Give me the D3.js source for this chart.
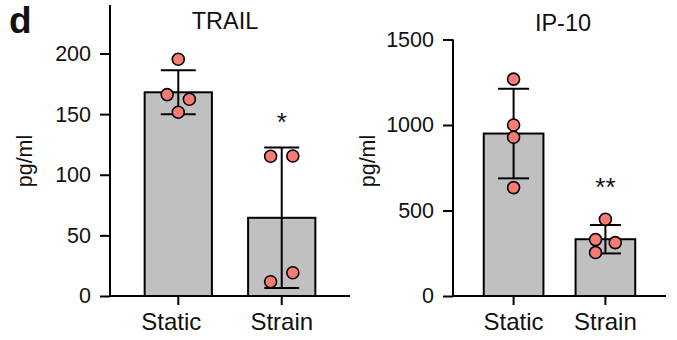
<!DOCTYPE html>
<html>
<head>
<meta charset="utf-8">
<script src="https://cdn.jsdelivr.net/npm/d3@7"></script>
<style>
  body { margin: 0; background: #fff; }
  svg text { font-family: "Liberation Sans", Arial, sans-serif; fill: #111; }
</style>
</head>
<body>
<div id="chart"></div>
<script>
(function () {

  // groups on the x axis
  const groups = ['Static', 'Strain']

  // TRAIL (pg/ml)
  const trailMeans = [168, 64.5]
  const trailSD = [18.2, 58]
  const trailStatic = [195.3, 166.1, 162.3, 151.6]
  const trailStrain = [115.3, 115.5, 11.8, 19.2]
  const trailTicks = [0, 50, 100, 150, 200]

  // IP-10 (pg/ml)
  const ipMeans = [950, 332]
  const ipSD = [262, 83]
  const ipStatic = [1268, 1000, 928, 634]
  const ipStrain = [449, 330, 312, 254]
  const ipTicks = [0, 500, 1000, 1500]

  const marks = ['*', '**']

  const svg = d3.select('#chart').append('svg')
    .attr('width', 677)
    .attr('height', 340)

  svg.append('text')
    .attr('x', 9)
    .attr('y', 33)
    .attr('font-size', 37)
    .attr('font-weight', 'bold')
    .text('d')

  function panel (opts) {
    const g = svg.append('g')

    const y = d3.scaleLinear()
      .domain(opts.domain)
      .range([296, opts.top])

    const x = d3.scaleBand()
      .domain(groups)
      .range([opts.left, opts.right])
      .paddingInner(0.35)
      .paddingOuter(0.335)

    const bw = x.bandwidth()
    const dodge = bw * 0.165
    const capW = bw * 0.52

    // y axis
    const yAxis = d3.axisLeft(y)
      .tickValues(opts.ticks)
      .tickFormat(d3.format('d'))
      .tickSize(10)
      .tickPadding(9)
    const ya = g.append('g')
      .attr('transform', 'translate(' + opts.left + ',0)')
      .call(yAxis)
    ya.select('.domain').attr('d', 'M0,' + opts.top + 'V296')
    ya.selectAll('line, path').attr('stroke', '#000').attr('stroke-width', 2)
    ya.selectAll('text')
      .attr('font-size', 21.5)
      .style('font-family', '"Liberation Sans", Arial, sans-serif')
      .attr('fill', '#111')

    // x axis
    const xAxis = d3.axisBottom(x).tickSize(9).tickPadding(5)
    const xa = g.append('g')
      .attr('transform', 'translate(0,296)')
      .call(xAxis)
    xa.select('.domain').attr('d', 'M' + opts.left + ',0H' + opts.right)
    xa.selectAll('line, path').attr('stroke', '#000').attr('stroke-width', 2)
    xa.selectAll('text')
      .attr('font-size', 24)
      .attr('dy', '0.85em')
      .attr('dx', (d, i) => i === 0 ? opts.firstLabelDx : 0)
      .style('font-family', '"Liberation Sans", Arial, sans-serif')
      .attr('fill', '#111')

    // bars
    g.selectAll('.bar')
      .data(groups)
      .join('rect')
      .attr('class', 'bar')
      .attr('x', d => x(d))
      .attr('width', bw)
      .attr('y', (d, i) => y(opts.means[i]))
      .attr('height', (d, i) => 296 - y(opts.means[i]))
      .attr('fill', '#c0c0c0')
      .attr('stroke', '#000')
      .attr('stroke-width', 2)

    // error bars
    groups.forEach((grp, i) => {
      const cx = x(grp) + bw / 2
      const hi = y(opts.means[i] + opts.sd[i])
      const lo = y(Math.max(0, opts.means[i] - opts.sd[i]))
      const e = g.append('g').attr('stroke', '#000').attr('stroke-width', 2)
      e.append('line').attr('x1', cx).attr('x2', cx).attr('y1', hi).attr('y2', lo)
      e.append('line').attr('x1', cx - capW / 2).attr('x2', cx + capW / 2).attr('y1', hi).attr('y2', hi)
      e.append('line').attr('x1', cx - capW / 2).attr('x2', cx + capW / 2).attr('y1', lo).attr('y2', lo)
    })

    // points: close values get spread left / right
    groups.forEach((grp, i) => {
      const vals = opts.points[i]
      const cx = x(grp) + bw / 2
      const pts = vals.map((v, k) => ({ v: v, k: k, py: y(v), off: 0 }))
      const sorted = pts.slice().sort((a, b) => a.py - b.py)
      const clusters = []
      sorted.forEach(p => {
        const last = clusters[clusters.length - 1]
        if (last && p.py - last[last.length - 1].py < 11) last.push(p)
        else clusters.push([p])
      })
      clusters.forEach(c => {
        if (c.length < 2) return
        c.sort((a, b) => a.k - b.k)
          .forEach((p, j) => { p.off = j % 2 === 0 ? -dodge : dodge })
      })
      g.selectAll('.pt-' + i)
        .data(pts)
        .join('circle')
        .attr('class', 'pt-' + i)
        .attr('cx', d => cx + d.off)
        .attr('cy', d => d.py)
        .attr('r', 6)
        .attr('fill', '#f87c74')
        .attr('stroke', '#000')
        .attr('stroke-width', 1.6)
    })

    // significance
    g.append('text')
      .attr('x', x(groups[1]) + bw / 2)
      .attr('y', opts.starY)
      .attr('text-anchor', 'middle')
      .attr('font-size', 26)
      .text(opts.mark)

    // title
    g.append('text')
      .attr('x', opts.titleX)
      .attr('y', opts.titleY)
      .attr('text-anchor', 'middle')
      .attr('font-size', 23.5)
      .text(opts.title)

    // y label
    g.append('text')
      .attr('transform', 'translate(' + opts.labelX + ',161) rotate(-90)')
      .attr('text-anchor', 'middle')
      .attr('font-size', 21.5)
      .text('pg/ml')
  }

  panel({
    left: 110, right: 350, top: 5,
    domain: [0, 240], ticks: trailTicks,
    means: trailMeans, sd: trailSD,
    points: [trailStatic, trailStrain],
    mark: marks[0], starY: 131,
    title: 'TRAIL', titleX: 225, titleY: 29,
    labelX: 32, firstLabelDx: -7
  })

  panel({
    left: 453, right: 666, top: 39.5,
    domain: [0, 1500], ticks: ipTicks,
    means: ipMeans, sd: ipSD,
    points: [ipStatic, ipStrain],
    mark: marks[1], starY: 196,
    title: 'IP-10', titleX: 563, titleY: 31,
    labelX: 375, firstLabelDx: 0
  })

})();
</script>
</body>
</html>
